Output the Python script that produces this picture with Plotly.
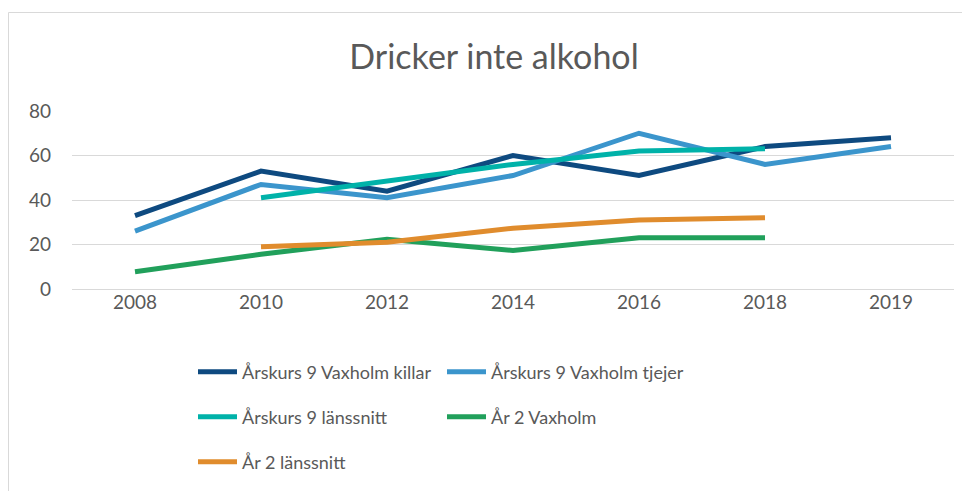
import plotly.graph_objects as go

years = ["2008", "2010", "2012", "2014", "2016", "2018", "2019"]
killar = [33, 53, 44, 60, 51, 64, 68]
tjejer = [26, 47, 41, 51, 70, 56, 64]
ak9_lans = [None, 41, 48.5, 56, 62, 63, None]
ar2_vax = [7.8, 15.6, 22.3, 17.3, 23, 23, None]
ar2_lans = [None, 19, 21, 27.3, 31, 32, None]

names = ["Årskurs 9 Vaxholm killar", "Årskurs 9 Vaxholm tjejer",
         "Årskurs 9 länssnitt", "År 2 Vaxholm", "År 2 länssnitt"]
series = [killar, tjejer, ak9_lans, ar2_vax, ar2_lans]
colors = ["#0e4a80", "#3b95cc", "#00b2a9", "#21a05b", "#e08c2d"]
legends = ["legend", "legend", "legend2", "legend2", "legend3"]

OFF = 8  # browser body margin
W, H = 970 - OFF, 491 - OFF
L, T = 72 - OFF, 111 - OFF
pw, ph = 882, 178
R = W - L - pw
B = H - T - ph

fig = go.Figure()
for n, s, c, lg in zip(names, series, colors, legends):
    fig.add_trace(go.Scatter(x=years, y=s, name=n, mode="lines",
                             line=dict(color=c, width=5),
                             legend=lg, connectgaps=False))

def px_x(px):
    return (px - OFF - L) / pw

def px_y(py):
    return (T + ph - (py - OFF)) / ph

font = "Lato, Open Sans, sans-serif"
leg_common = dict(orientation="h", xanchor="left", yanchor="middle",
                  font=dict(size=18, color="#595959", family=font),
                  entrywidth=195, bgcolor="rgba(0,0,0,0)", itemwidth=39,
                  tracegroupgap=0)

fig.update_layout(
    width=W, height=H,
    margin=dict(l=L, r=R, t=T, b=B, autoexpand=False),
    paper_bgcolor="white", plot_bgcolor="white",
    title=dict(text="Dricker inte alkohol", x=px_x(494), xanchor="center",
               xref="paper", y=1 - (57 - OFF) / H, yanchor="middle",
               font=dict(size=34, color="#595959", family=font)),
    xaxis=dict(type="category", range=[-0.5, 6.5], showgrid=False,
               showline=False, zeroline=False, ticks="",
               tickfont=dict(size=19, color="#595959", family=font)),
    yaxis=dict(range=[0, 80], tickvals=[0, 20, 40, 60, 80],
               gridcolor="#d9d9d9", gridwidth=1, zeroline=True,
               zerolinecolor="#d9d9d9", zerolinewidth=1, showline=False,
               ticks="", ticklabelstandoff=20,
               tickfont=dict(size=19, color="#595959", family=font)),
    legend=dict(x=px_x(193), y=px_y(372), **leg_common),
    legend2=dict(x=px_x(193), y=px_y(417), **leg_common),
    legend3=dict(x=px_x(193), y=px_y(462), **leg_common),
    showlegend=True,
    shapes=[dict(type="rect", xref="paper", yref="paper",
                 x0=px_x(8.5), x1=px_x(990), y0=px_y(12.5), y1=px_y(520),
                 line=dict(color="#d9d9d9", width=1), layer="below")],
)

fig.write_html("out.html")
